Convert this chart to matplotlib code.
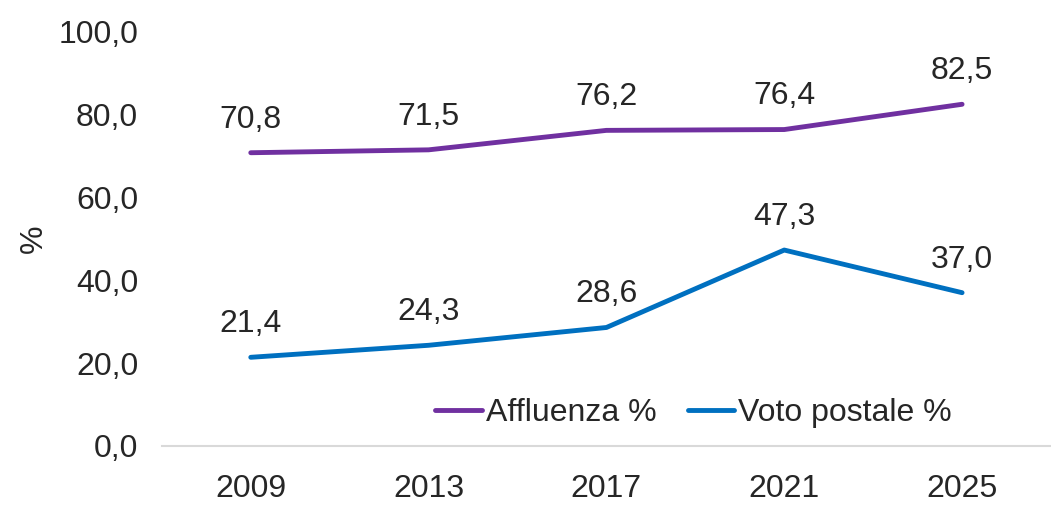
import matplotlib
matplotlib.use("Agg")
import matplotlib.pyplot as plt

years = ["2009", "2013", "2017", "2021", "2025"]
affluenza = [70.8, 71.5, 76.2, 76.4, 82.5]
voto_postale = [21.4, 24.3, 28.6, 47.3, 37.0]
yticks = [0, 20, 40, 60, 80, 100]

plt.rcParams['font.family'] = ['Liberation Sans', 'DejaVu Sans']
fs = 23
txt = '#262626'

fig = plt.figure(figsize=(10.51, 5.05), dpi=100)
ax = fig.add_axes([0.154, 0.117, 0.846, 0.82])
x = list(range(len(years)))
ax.plot(x, affluenza, color='#7030A0', lw=3.5, solid_capstyle='round', label='Affluenza %')
ax.plot(x, voto_postale, color='#0070C0', lw=3.5, solid_capstyle='round', label='Voto postale %')

for xi, v in zip(x, affluenza):
    ax.annotate(f"{v:.1f}".replace('.', ','), (xi, v), xytext=(0, 13), textcoords='offset points',
                ha='center', va='bottom', fontsize=fs, color=txt)
for xi, v in zip(x, voto_postale):
    ax.annotate(f"{v:.1f}".replace('.', ','), (xi, v), xytext=(0, 13), textcoords='offset points',
                ha='center', va='bottom', fontsize=fs, color=txt)

ax.set_xlim(-0.5, len(years) - 0.5)
ax.set_ylim(0, 100)
ax.set_xticks(x)
ax.set_xticklabels(years)
ax.set_yticks(yticks)
ax.set_yticklabels([f"{t:.1f}".replace('.', ',') for t in yticks])
ax.tick_params(axis='both', length=0, labelsize=fs, colors=txt)
ax.tick_params(axis='x', pad=20)
ax.tick_params(axis='y', pad=17)
for s in ['top', 'right', 'left']:
    ax.spines[s].set_visible(False)
ax.spines['bottom'].set_color('#D9D9D9')
ax.spines['bottom'].set_linewidth(1.5)
ax.set_ylabel('%', fontsize=fs, color=txt, labelpad=7)

leg = fig.legend(loc='center', bbox_to_anchor=(0.660, 0.182), ncol=2, frameon=False,
                 fontsize=fs, handlelength=1.45, handletextpad=0.12, columnspacing=1.0,
                 labelcolor=txt)

fig.savefig('out.png', dpi=100)
